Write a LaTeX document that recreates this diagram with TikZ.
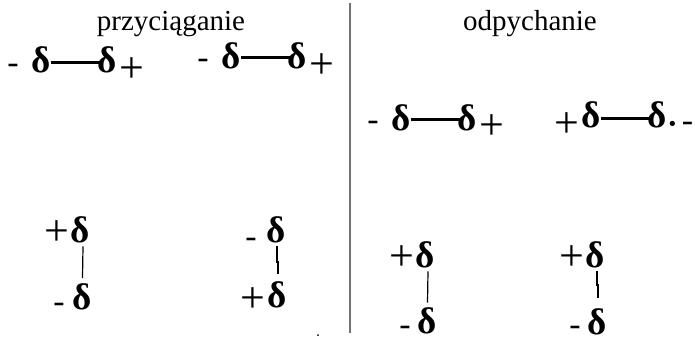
\documentclass[tikz,border=0pt]{standalone}
\usepackage{fontspec}
\setmainfont{Liberation Serif}
\usetikzlibrary{positioning}

\begin{document}
\begin{tikzpicture}[x=1pt, y=-1pt,
    title/.style={font=\fontsize{29}{34}\selectfont, inner sep=0pt},
    delta/.style={font=\fontsize{37}{42}\selectfont\bfseries, inner sep=0pt},
    chg/.style={font=\fontsize{44}{50}\selectfont, inner sep=0pt, anchor=base,
      text height=20pt, text depth=0pt},
    neg/.style={chg, font=\fontsize{34}{40}\selectfont},
    bond/.style={line width=3pt},
    vbond/.style={line width=1.2pt},
    divider/.style={draw=black!55, line width=2pt}]
  \useasboundingbox (0,0) rectangle (695,343);

  % headings and the dividing line
  \node[title, anchor=base] (attract) at (171,30) {przyciąganie};
  \node[title, anchor=base] (repel) at (530,30) {odpychanie};
  \coordinate (top) at (349.5,3);
  \coordinate (bottom) at (349.5,333);
  \draw[divider] (top) -- (bottom);

  % przyciaganie, horizontal
  \node[delta] (a1) at (41,60) {δ};
  \node[delta] (a2) at (107.5,60) {δ};
  \node[neg] (a1s) at (13,73) {-};
  \node[chg] (a2s) at (132,82) {+};
  \draw[bond] ([yshift=-2pt]a1.east) -- ([xshift=2pt,yshift=-2pt]a2.west);

  \node[delta] (b1) at (231,56) {δ};
  \node[delta] (b2) at (297.5,56) {δ};
  \node[neg] (b1s) at (203,68) {-};
  \node[chg] (b2s) at (322,78) {+};
  \draw[bond] ([yshift=-1pt]b1.east) -- ([xshift=2pt,yshift=-1pt]b2.west);

  % przyciaganie, vertical
  \node[delta] (c1) at (80,230) {δ};
  \node[chg] (c1s) at (56.5,245) {+};
  \node[delta] (c2) at (82.5,296.5) {δ};
  \node[neg] (c2s) at (59,312) {-};
  \draw[vbond] ([xshift=3pt,yshift=-3pt]c1.south) -- ([yshift=5pt]c2.north);

  \node[delta] (d1) at (276,230) {δ};
  \node[neg] (d1s) at (251,247) {-};
  \node[delta] (d2) at (277,295) {δ};
  \node[chg] (d2s) at (252.5,312) {+};
  \draw[vbond] ([xshift=1pt,yshift=-3pt]d1.south) -- ++(0,17) ++(1,-2)
    -- ([xshift=1pt,yshift=8pt]d2.north);
  \fill (318,335) circle (1pt);

  % odpychanie, horizontal
  \node[delta] (e1) at (401,117.5) {δ};
  \node[delta] (e2) at (467.5,117.5) {δ};
  \node[neg] (e1s) at (373,130) {-};
  \node[chg] (e2s) at (492,139) {+};
  \draw[bond] ([yshift=-1.5pt]e1.east) -- ([xshift=2pt,yshift=-1.5pt]e2.west);

  \node[delta] (f1) at (591,115) {δ};
  \node[delta] (f2) at (657.5,115) {δ};
  \node[chg] (f1s) at (567,137) {+};
  \node[chg] (f2d) at (673,138) {·};
  \node[neg] (f2s) at (687.5,131) {-};
  \draw[bond] ([yshift=-3pt]f1.east) -- ([xshift=2pt,yshift=-3pt]f2.west);

  % odpychanie, vertical
  \node[delta] (g1) at (425,255) {δ};
  \node[chg] (g1s) at (401.5,270) {+};
  \node[delta] (g2) at (427.5,321) {δ};
  \node[neg] (g2s) at (405,335.5) {-};
  \draw[vbond] ([xshift=3pt,yshift=-3pt]g1.south) -- ([yshift=5pt]g2.north);

  \node[delta] (h1) at (595,255) {δ};
  \node[chg] (h1s) at (571.5,270) {+};
  \node[delta] (h2) at (597.5,321.5) {δ};
  \node[neg] (h2s) at (575,335.5) {-};
  \draw[vbond] ([xshift=2pt,yshift=-3pt]h1.south) -- ++(0,15) ++(1,-2)
    -- ([xshift=0.5pt,yshift=10pt]h2.north);
\end{tikzpicture}
\end{document}
